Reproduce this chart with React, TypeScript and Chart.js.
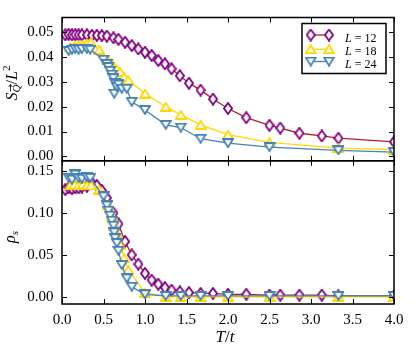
import React, { useEffect, useRef } from "react";
import { Chart, registerables } from "chart.js";

Chart.register(...registerables);

// ---- data ----
const tL12 = [0.04, 0.08, 0.12, 0.16, 0.2, 0.24, 0.3, 0.36, 0.42, 0.48, 0.54, 0.62, 0.68, 0.76, 0.84, 0.92, 1.0, 1.08, 1.16, 1.24, 1.32, 1.42, 1.53, 1.67, 1.82, 2.0, 2.22, 2.5, 2.63, 2.86, 3.13, 3.33, 4.0];
const sL12 = [0.049, 0.0492, 0.049, 0.0491, 0.049, 0.049, 0.049, 0.0488, 0.0488, 0.0487, 0.0485, 0.0478, 0.0472, 0.046, 0.0447, 0.0433, 0.042, 0.0407, 0.0387, 0.0373, 0.0353, 0.0325, 0.0295, 0.0267, 0.0231, 0.0193, 0.0156, 0.0125, 0.0114, 0.0093, 0.0082, 0.0073, 0.0058];
const rhoL12 = [0.128, 0.13, 0.129, 0.13, 0.13, 0.131, 0.132, 0.136, 0.133, 0.127, 0.118, 0.1, 0.087, 0.066, 0.05, 0.039, 0.028, 0.02, 0.015, 0.011, 0.008, 0.006, 0.005, 0.004, 0.004, 0.003, 0.003, 0.002, 0.002, 0.002, 0.002, 0.001, 0.001];

const tL18 = [0.1, 0.15, 0.2, 0.25, 0.3, 0.35, 0.45, 0.55, 0.6, 0.63, 0.66, 0.7, 0.75, 0.8, 1.0, 1.25, 1.43, 1.67, 2.0, 2.5, 3.33, 4.0];
const sL18 = [0.044, 0.0445, 0.045, 0.045, 0.0455, 0.046, 0.043, 0.039, 0.0375, 0.036, 0.035, 0.034, 0.032, 0.0307, 0.0253, 0.02, 0.0167, 0.0127, 0.0087, 0.0056, 0.0033, 0.0027];
const rhoL18 = [0.133, 0.134, 0.133, 0.134, 0.133, 0.133, 0.128, 0.11, 0.097, 0.085, 0.075, 0.062, 0.046, 0.032, 0.005, 0.0, 0.0, 0.0, 0.0, 0.0, 0.0, 0.0];

const tL24 = [0.08, 0.12, 0.16, 0.2, 0.24, 0.3, 0.34, 0.5, 0.54, 0.56, 0.58, 0.6, 0.62, 0.63, 0.64, 0.66, 0.68, 0.72, 0.78, 0.84, 1.0, 1.25, 1.43, 1.67, 2.0, 2.5, 3.33, 4.0];
const sL24 = [0.0425, 0.043, 0.0433, 0.043, 0.0433, 0.0433, 0.043, 0.039, 0.0373, 0.036, 0.0345, 0.033, 0.0315, 0.0253, 0.0295, 0.028, 0.029, 0.0273, 0.0273, 0.022, 0.0187, 0.0127, 0.0116, 0.0071, 0.0053, 0.0037, 0.0024, 0.0017];
const rhoL24 = [0.142, 0.14, 0.146, 0.142, 0.141, 0.143, 0.142, 0.12, 0.109, 0.103, 0.097, 0.091, 0.085, 0.077, 0.07, 0.064, 0.055, 0.038, 0.022, 0.012, 0.003, 0.001, 0.001, 0.001, 0.001, 0.001, 0.001, 0.001];

const legendSizes = ["12", "18", "24"];
const xTicks = [0, 0.5, 1.0, 1.5, 2.0, 2.5, 3.0, 3.5, 4.0];
const yTopTicks = [0, 0.01, 0.02, 0.03, 0.04, 0.05];
const yBotTicks = [0, 0.05, 0.1, 0.15];

const SERIF = '"Liberation Serif", "DejaVu Serif", serif';
const PURPLE = "#800080";
const RED = "#b22222";
const GOLD = "#ffd700";
const BLUE = "#4682b4";

function makeMarker(kind: string, color: string): HTMLCanvasElement {
  const c = document.createElement("canvas");
  if (kind === "diamond") { c.width = 10; c.height = 13; } else { c.width = 12; c.height = 10; }
  const ctx = c.getContext("2d")!;
  ctx.lineWidth = 1.8;
  ctx.strokeStyle = color;
  ctx.fillStyle = "#ffffff";
  ctx.beginPath();
  if (kind === "diamond") {
    ctx.moveTo(5, 1); ctx.lineTo(9, 6.5); ctx.lineTo(5, 12); ctx.lineTo(1, 6.5);
  } else if (kind === "up") {
    ctx.moveTo(6, 1); ctx.lineTo(11, 9); ctx.lineTo(1, 9);
  } else {
    ctx.moveTo(1, 1); ctx.lineTo(11, 1); ctx.lineTo(6, 9);
  }
  ctx.closePath();
  ctx.fill();
  ctx.stroke();
  return c;
}

type Piece = { t: string; f: string; dy: number; arrow?: boolean };

function piecesWidth(ctx: CanvasRenderingContext2D, pieces: Piece[]) {
  let w = 0;
  for (const p of pieces) { ctx.font = p.f; w += ctx.measureText(p.t).width; }
  return w;
}

function drawPieces(ctx: CanvasRenderingContext2D, pieces: Piece[], x0: number, y0: number) {
  let cur = x0;
  ctx.textAlign = "left";
  ctx.textBaseline = "alphabetic";
  for (const p of pieces) {
    ctx.font = p.f;
    const w = ctx.measureText(p.t).width;
    ctx.fillText(p.t, cur, y0 + p.dy);
    if (p.arrow) {
      const ay = y0 + p.dy - 9.5;
      ctx.beginPath();
      ctx.lineWidth = 0.8;
      ctx.moveTo(cur + 1, ay); ctx.lineTo(cur + w, ay);
      ctx.moveTo(cur + w - 2.5, ay - 1.8); ctx.lineTo(cur + w, ay); ctx.lineTo(cur + w - 2.5, ay + 1.8);
      ctx.stroke();
    }
    cur += w;
  }
}

export default function App() {
  const ref = useRef<HTMLCanvasElement | null>(null);

  useEffect(() => {
    document.body.style.margin = "0";
    document.body.style.overflow = "hidden";
    const canvas = ref.current!;
    const diamond = makeMarker("diamond", PURPLE);
    const up = makeMarker("up", GOLD);
    const down = makeMarker("down", BLUE);

    const pts = (t: number[], v: number[]) => t.map((x, i) => ({ x, y: v[i] }));
    const base = { borderWidth: 1.3, showLine: true, tension: 0, fill: false, pointRadius: 5, pointHoverRadius: 5 };

    const datasets: any[] = [
      { ...base, label: "L = 12", data: pts(tL12, sL12), yAxisID: "yTop", borderColor: RED, pointStyle: diamond, order: 3 },
      { ...base, label: "L = 18", data: pts(tL18, sL18), yAxisID: "yTop", borderColor: GOLD, pointStyle: up, order: 2 },
      { ...base, label: "L = 24", data: pts(tL24, sL24), yAxisID: "yTop", borderColor: BLUE, pointStyle: down, order: 1 },
      { ...base, label: "L = 12 rho", data: pts(tL12, rhoL12), yAxisID: "yBot", borderColor: RED, pointStyle: diamond, order: 3 },
      { ...base, label: "L = 18 rho", data: pts(tL18, rhoL18), yAxisID: "yBot", borderColor: GOLD, pointStyle: up, order: 2 },
      { ...base, label: "L = 24 rho", data: pts(tL24, rhoL24), yAxisID: "yBot", borderColor: BLUE, pointStyle: down, order: 1 },
    ];

    const legendItems = [
      { img: diamond, line: RED, size: legendSizes[0], my: 35, ty: 41.7 },
      { img: up, line: GOLD, size: legendSizes[1], my: 49.2, ty: 55 },
      { img: down, line: BLUE, size: legendSizes[2], my: 61.5, ty: 68.3 },
    ];

    const panelPlugin = {
      id: "panels",
      afterDraw(chart: any) {
        const ctx: CanvasRenderingContext2D = chart.ctx;
        const xs = chart.scales.x;
        const panels: [any, number[]][] = [[chart.scales.yTop, yTopTicks], [chart.scales.yBot, yBotTicks]];
        ctx.save();
        ctx.strokeStyle = "#000";
        for (const [ys, tks] of panels) {
          ctx.lineWidth = 1;
          ctx.beginPath();
          for (const v of xTicks) {
            const px = Math.round(xs.getPixelForValue(v)) + 0.5;
            ctx.moveTo(px, ys.top); ctx.lineTo(px, ys.top + 5);
            ctx.moveTo(px, ys.bottom); ctx.lineTo(px, ys.bottom - 5);
          }
          for (const v of tks) {
            const py = Math.round(ys.getPixelForValue(v)) + 0.5;
            ctx.moveTo(xs.left, py); ctx.lineTo(xs.left + 5, py);
            ctx.moveTo(xs.right, py); ctx.lineTo(xs.right - 5, py);
          }
          ctx.stroke();
          ctx.lineWidth = 1.5;
          ctx.strokeRect(xs.left, ys.top, xs.right - xs.left, ys.bottom - ys.top);
        }

        // legend
        const lx = 302, ly = 23.5, lw = 84, lh = 50;
        ctx.fillStyle = "#fff";
        ctx.fillRect(lx, ly, lw, lh);
        ctx.lineWidth = 1.5;
        ctx.strokeStyle = "#000";
        ctx.strokeRect(lx, ly, lw, lh);
        for (const it of legendItems) {
          ctx.strokeStyle = it.line;
          ctx.lineWidth = 1.3;
          ctx.beginPath();
          ctx.moveTo(310.7, it.my); ctx.lineTo(329, it.my);
          ctx.stroke();
          ctx.drawImage(it.img, 310.7 - it.img.width / 2, it.my - it.img.height / 2);
          ctx.drawImage(it.img, 329 - it.img.width / 2, it.my - it.img.height / 2);
          ctx.fillStyle = "#000";
          ctx.strokeStyle = "#000";
          drawPieces(ctx, [
            { t: "L", f: `italic 12px ${SERIF}`, dy: 0 },
            { t: " = ", f: `12px ${SERIF}`, dy: 0 },
            { t: it.size, f: `12px ${SERIF}`, dy: 0 },
          ], 345, it.ty);
        }

        // axis titles
        ctx.fillStyle = "#000";
        ctx.strokeStyle = "#000";
        const topLabel: Piece[] = [
          { t: "S", f: `italic 16px ${SERIF}`, dy: 0 },
          { t: "Q", f: `italic 11px ${SERIF}`, dy: 3, arrow: true },
          { t: "/", f: `16px ${SERIF}`, dy: 0 },
          { t: "L", f: `italic 16px ${SERIF}`, dy: 0 },
          { t: "2", f: `11px ${SERIF}`, dy: -7 },
        ];
        let w = piecesWidth(ctx, topLabel);
        ctx.save();
        ctx.translate(17, 83 + w / 2);
        ctx.rotate(-Math.PI / 2);
        drawPieces(ctx, topLabel, 0, 0);
        ctx.restore();

        const botLabel: Piece[] = [
          { t: "ρ", f: `italic 16px ${SERIF}`, dy: 0 },
          { t: "s", f: `italic 11px ${SERIF}`, dy: 3 },
        ];
        w = piecesWidth(ctx, botLabel);
        ctx.save();
        ctx.translate(15, 237 + w / 2);
        ctx.rotate(-Math.PI / 2);
        drawPieces(ctx, botLabel, 0, 0);
        ctx.restore();

        const xLabel: Piece[] = [
          { t: "T", f: `italic 17px ${SERIF}`, dy: 0 },
          { t: "/", f: `17px ${SERIF}`, dy: 0 },
          { t: "t", f: `italic 17px ${SERIF}`, dy: 0 },
        ];
        w = piecesWidth(ctx, xLabel);
        drawPieces(ctx, xLabel, 225 - w / 2, 342);
        ctx.restore();
      },
    };

    const tickFont = { family: SERIF, size: 15 };
    const chart = new Chart(canvas, {
      type: "line",
      data: { datasets },
      options: {
        responsive: false,
        animation: false,
        devicePixelRatio: 1,
        layout: { padding: { top: 15, right: 22, left: 0, bottom: 0 } },
        plugins: { legend: { display: false }, tooltip: { enabled: false } },
        scales: {
          x: {
            type: "linear",
            position: "bottom",
            min: 0,
            max: 4,
            grid: { display: false, drawTicks: false },
            border: { display: false },
            afterBuildTicks: (s: any) => { s.ticks = xTicks.map((v) => ({ value: v })); },
            afterFit: (s: any) => { s.height = 44; },
            ticks: { color: "#000", font: tickFont, padding: 7, autoSkip: false, maxRotation: 0, callback: (v: any) => Number(v).toFixed(1) },
          },
          yTop: {
            type: "linear",
            position: "left",
            stack: "panels",
            stackWeight: 1,
            weight: 1,
            min: -0.0018,
            max: 0.056,
            grid: { display: false, drawTicks: false },
            border: { display: false },
            afterBuildTicks: (s: any) => { s.ticks = yTopTicks.map((v) => ({ value: v })); },
            afterFit: (s: any) => { s.width = 62; },
            ticks: { color: "#000", font: tickFont, padding: 8.5, autoSkip: false, callback: (v: any) => Number(v).toFixed(2) },
          },
          yBot: {
            type: "linear",
            position: "left",
            stack: "panels",
            stackWeight: 1,
            weight: 0,
            min: -0.0086,
            max: 0.1624,
            grid: { display: false, drawTicks: false },
            border: { display: false },
            afterBuildTicks: (s: any) => { s.ticks = yBotTicks.map((v) => ({ value: v })); },
            afterFit: (s: any) => { s.width = 62; },
            ticks: { color: "#000", font: tickFont, padding: 8.5, autoSkip: false, callback: (v: any) => Number(v).toFixed(2) },
          },
        },
      } as any,
      plugins: [panelPlugin],
    });
    return () => chart.destroy();
  }, []);

  return <canvas ref={ref} width={416} height={348} style={{ display: "block" }} />;
}
